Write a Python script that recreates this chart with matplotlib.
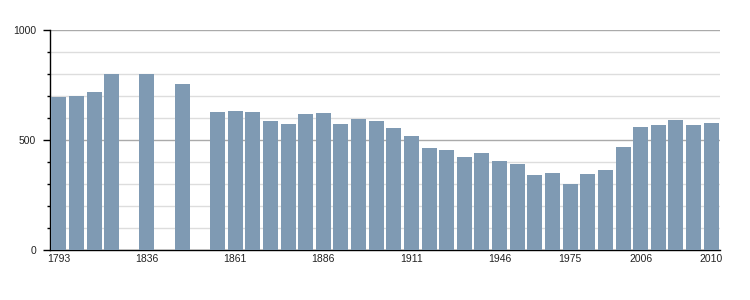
import numpy as np
import matplotlib
matplotlib.use('Agg')
import matplotlib.pyplot as plt
from matplotlib.ticker import MultipleLocator

# census years (one slot each, None = no data)
years = [1793, 1800, 1806, 1821, 1831, 1836, 1841, 1846, 1851, 1856,
         1861, 1866, 1872, 1876, 1881, 1886, 1891, 1896, 1901, 1906,
         1911, 1921, 1926, 1931, 1936, 1946, 1954, 1962, 1968, 1975,
         1982, 1990, 1999, 2006, 2007, 2008, 2009, 2010]
population = [697, 701, 720, 802, None, 802, None, 756, None, 629,
              633, 629, 588, 574, 620, 624, 574, 597, 588, 556,
              520, 465, 456, 424, 442, 406, 392, 342, 351, 301,
              347, 365, 470, 561, 570, 592, 570, 579]
labelled_years = [1793, 1836, 1861, 1886, 1911, 1946, 1975, 2006, 2010]

plt.rcParams['font.family'] = ['Liberation Sans', 'DejaVu Sans']

fig = plt.figure(figsize=(7.5, 3), dpi=100)
ax = fig.add_axes([50/750, 50/300, 670/750, 220/300])

x = np.arange(len(years))
vals = np.array([np.nan if v is None else v for v in population], dtype=float)
ax.bar(x, vals, width=0.85, color='#7f9ab3', zorder=3)

ax.set_xlim(-0.5, len(years) - 0.5)
ax.set_ylim(0, 1000)

ax.set_yticks([0, 500, 1000])
ax.yaxis.set_minor_locator(MultipleLocator(100))
ax.grid(axis='y', which='major', color='#aaaaaa', linewidth=1, zorder=1)
ax.grid(axis='y', which='minor', color='#dddddd', linewidth=1, zorder=1)

ax.set_xticks([years.index(y) for y in labelled_years])
ax.set_xticklabels([str(y) for y in labelled_years])

for s in ['top', 'right']:
    ax.spines[s].set_visible(False)
for s in ['left', 'bottom']:
    ax.spines[s].set_color('black')
    ax.spines[s].set_linewidth(1)

ax.tick_params(axis='x', length=0, pad=3, labelsize=7.5, colors='#222222')
ax.tick_params(axis='y', which='major', length=5, width=1, pad=5,
               labelsize=7.5, colors='black', labelcolor='#222222')
ax.tick_params(axis='y', which='minor', length=2.5, width=1, colors='black')

fig.savefig('out.png', dpi=100)
